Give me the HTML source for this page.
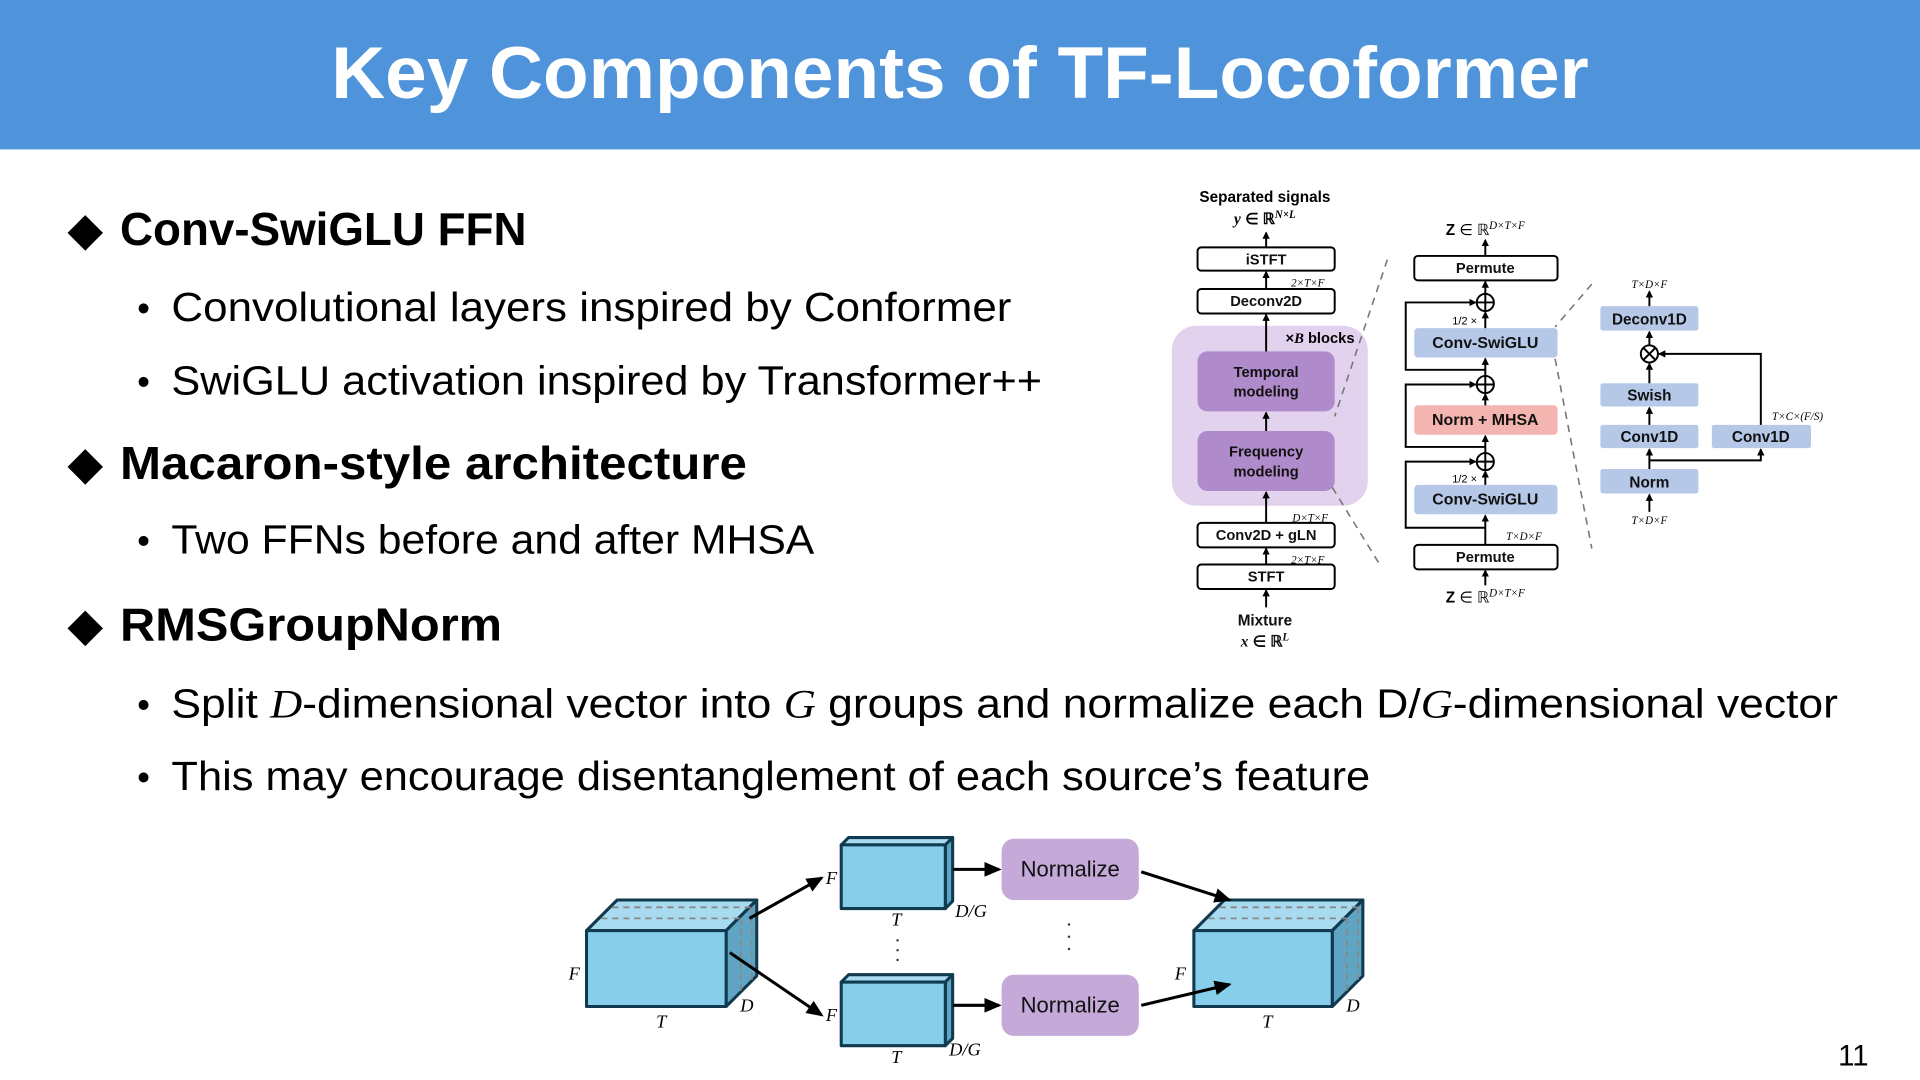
<!DOCTYPE html>
<html><head><meta charset="utf-8"><style>
html,body{margin:0;padding:0;background:#fff;}
svg{display:block;font-family:"Liberation Sans",sans-serif;}
.b{font-weight:bold;}
.it{font-family:"Liberation Serif",serif;font-style:italic;}
</style></head><body>
<svg width="1920" height="1080" viewBox="0 0 1568 882" xmlns="http://www.w3.org/2000/svg">
<defs>
<marker id="ah" markerWidth="8" markerHeight="8" refX="7" refY="4" orient="auto" markerUnits="userSpaceOnUse"><path d="M0,0 L8,4 L0,8 z" fill="#000"/></marker>
<marker id="as" markerWidth="6" markerHeight="6" refX="5" refY="3" orient="auto" markerUnits="userSpaceOnUse"><path d="M0,0 L6,3 L0,6 z" fill="#000"/></marker>
<marker id="ab" markerWidth="14" markerHeight="12" refX="12" refY="6" orient="auto" markerUnits="userSpaceOnUse"><path d="M0,0 L14,6 L0,12 z" fill="#000"/></marker>
</defs>
<rect x="0" y="0" width="1568" height="122" fill="#4f94da"/>
<text x="784" y="80" text-anchor="middle" fill="#fff" class="b" font-size="60" textLength="1027" lengthAdjust="spacingAndGlyphs">Key Components of TF-Locoformer</text>

<g fill="#000">
<text x="55" y="200" font-size="38">◆</text>
<text x="98" y="200" class="b" font-size="38" textLength="332" lengthAdjust="spacingAndGlyphs">Conv-SwiGLU FFN</text>
<text x="112" y="262" font-size="30">•</text>
<text x="140" y="262" font-size="33" textLength="686" lengthAdjust="spacingAndGlyphs">Convolutional layers inspired by Conformer</text>
<text x="112" y="322" font-size="30">•</text>
<text x="140" y="322" font-size="33" textLength="711" lengthAdjust="spacingAndGlyphs">SwiGLU activation inspired by Transformer++</text>
<text x="55" y="391" font-size="38">◆</text>
<text x="98" y="391" class="b" font-size="38" textLength="512" lengthAdjust="spacingAndGlyphs">Macaron-style architecture</text>
<text x="112" y="452" font-size="30">•</text>
<text x="140" y="452" font-size="33" textLength="525" lengthAdjust="spacingAndGlyphs">Two FFNs before and after MHSA</text>
<text x="55" y="523" font-size="38">◆</text>
<text x="98" y="523" class="b" font-size="38" textLength="312" lengthAdjust="spacingAndGlyphs">RMSGroupNorm</text>
<text x="112" y="586" font-size="30">•</text>
<text x="140" y="586" font-size="33" textLength="1361" lengthAdjust="spacingAndGlyphs">Split <tspan class="it">D</tspan>-dimensional vector into <tspan class="it">G</tspan> groups and normalize each D/<tspan class="it">G</tspan>-dimensional vector</text>
<text x="112" y="645" font-size="30">•</text>
<text x="140" y="645" font-size="33" textLength="979" lengthAdjust="spacingAndGlyphs">This may encourage disentanglement of each source’s feature</text>
<text x="1526" y="870" font-size="24" text-anchor="end">11</text>
</g>

<!-- Top-right diagram -->
<g font-size="12" stroke-width="1.6">
<text x="1033" y="165" text-anchor="middle" class="b" font-size="12.5">Separated signals</text>
<text x="1033" y="183" text-anchor="middle" class="b" font-size="12.5"><tspan class="it">y</tspan> ∈ ℝ<tspan font-size="9" dy="-5" class="it">N×L</tspan></text>
<rect x="957" y="266" width="160" height="147" rx="20" fill="#e2d2ee"/>
<text x="1078" y="280" text-anchor="middle" class="b" font-size="12">×<tspan class="it">B</tspan> blocks</text>
<g fill="#fff" stroke="#000">
<rect x="978" y="202" width="112" height="19" rx="3"/>
<rect x="978" y="236" width="112" height="20" rx="3"/>
<rect x="978" y="427" width="112" height="20" rx="3"/>
<rect x="978" y="461" width="112" height="20" rx="3"/>
</g>
<rect x="978" y="287" width="112" height="49" rx="8" fill="#b08bcc"/>
<rect x="978" y="352" width="112" height="49" rx="8" fill="#b08bcc"/>
<g class="b" text-anchor="middle" fill="#111">
<text x="1034" y="216">iSTFT</text>
<text x="1034" y="250">Deconv2D</text>
<text x="1034" y="308">Temporal</text>
<text x="1034" y="324">modeling</text>
<text x="1034" y="373">Frequency</text>
<text x="1034" y="389">modeling</text>
<text x="1034" y="441">Conv2D + gLN</text>
<text x="1034" y="475">STFT</text>
<text x="1033" y="511" font-size="12.5">Mixture</text>
<text x="1033" y="528" font-size="12.5"><tspan class="it">x</tspan> ∈ ℝ<tspan font-size="9" dy="-5" class="it">L</tspan></text>
</g>
<g class="it" font-size="9" text-anchor="middle">
<text x="1068" y="234">2×T×F</text>
<text x="1070" y="426">D×T×F</text>
<text x="1068" y="460">2×T×F</text>
</g>
<g stroke="#000" marker-end="url(#as)">
<line x1="1034" y1="202" x2="1034" y2="190"/>
<line x1="1034" y1="236" x2="1034" y2="222"/>
<line x1="1034" y1="287" x2="1034" y2="257"/>
<line x1="1034" y1="352" x2="1034" y2="337"/>
<line x1="1034" y1="427" x2="1034" y2="402"/>
<line x1="1034" y1="461" x2="1034" y2="448"/>
<line x1="1034" y1="496" x2="1034" y2="482"/>
</g>
<g stroke="#777" stroke-dasharray="6,5" stroke-width="1.3">
<line x1="1133" y1="212" x2="1090" y2="340"/>
<line x1="1088" y1="398" x2="1128" y2="463"/>
<line x1="1300" y1="232" x2="1270" y2="267"/>
<line x1="1270" y1="293" x2="1300" y2="448"/>
</g>

<!-- middle -->
<text x="1213" y="192" text-anchor="middle" font-size="12.5"><tspan class="b">Z</tspan> ∈ ℝ<tspan font-size="9" dy="-5" class="it">D×T×F</tspan></text>
<text x="1213" y="492" text-anchor="middle" font-size="12.5"><tspan class="b">Z</tspan> ∈ ℝ<tspan font-size="9" dy="-5" class="it">D×T×F</tspan></text>
<g fill="#fff" stroke="#000">
<rect x="1155" y="209" width="117" height="20" rx="3"/>
<rect x="1155" y="445" width="117" height="20" rx="3"/>
</g>
<rect x="1155" y="268" width="117" height="24" rx="3" fill="#b5c8e8"/>
<rect x="1155" y="396" width="117" height="24" rx="3" fill="#b5c8e8"/>
<rect x="1155" y="331" width="117" height="24" rx="3" fill="#f4b5b0"/>
<g class="b" text-anchor="middle" fill="#111">
<text x="1213" y="223">Permute</text>
<text x="1213" y="459">Permute</text>
<text x="1213" y="284" font-size="13">Conv-SwiGLU</text>
<text x="1213" y="412" font-size="13">Conv-SwiGLU</text>
<text x="1213" y="347" font-size="13">Norm + MHSA</text>
</g>
<g class="it" font-size="9">
<text x="1186" y="265" font-style="normal" font-family="Liberation Sans">1/2 ×</text>
<text x="1186" y="394" font-style="normal" font-family="Liberation Sans">1/2 ×</text>
<text x="1230" y="441">T×D×F</text>
</g>
<g stroke="#000" fill="none">
<circle cx="1213" cy="247" r="7"/><line x1="1206" y1="247" x2="1220" y2="247"/><line x1="1213" y1="240" x2="1213" y2="254"/>
<circle cx="1213" cy="314" r="7"/><line x1="1206" y1="314" x2="1220" y2="314"/><line x1="1213" y1="307" x2="1213" y2="321"/>
<circle cx="1213" cy="377" r="7"/><line x1="1206" y1="377" x2="1220" y2="377"/><line x1="1213" y1="370" x2="1213" y2="384"/>
<polyline points="1213,302 1148,302 1148,247 1205,247" marker-end="url(#as)"/>
<polyline points="1213,365 1148,365 1148,314 1205,314" marker-end="url(#as)"/>
<polyline points="1213,431 1148,431 1148,377 1205,377" marker-end="url(#as)"/>
<g marker-end="url(#as)">
<line x1="1213" y1="209" x2="1213" y2="196"/>
<line x1="1213" y1="240" x2="1213" y2="230"/>
<line x1="1213" y1="268" x2="1213" y2="255"/>
<line x1="1213" y1="307" x2="1213" y2="293"/>
<line x1="1213" y1="331" x2="1213" y2="322"/>
<line x1="1213" y1="370" x2="1213" y2="356"/>
<line x1="1213" y1="396" x2="1213" y2="385"/>
<line x1="1213" y1="445" x2="1213" y2="421"/>
<line x1="1213" y1="478" x2="1213" y2="466"/>
</g>
</g>

<!-- right -->
<g fill="#b5c8e8">
<rect x="1307" y="250" width="80" height="20" rx="2"/>
<rect x="1307" y="313" width="80" height="19" rx="2"/>
<rect x="1307" y="347" width="80" height="19" rx="2"/>
<rect x="1398" y="347" width="81" height="19" rx="2"/>
<rect x="1307" y="383" width="80" height="20" rx="2"/>
</g>
<g class="b" text-anchor="middle" fill="#111" font-size="12.5">
<text x="1347" y="265">Deconv1D</text>
<text x="1347" y="327">Swish</text>
<text x="1347" y="361">Conv1D</text>
<text x="1438" y="361">Conv1D</text>
<text x="1347" y="398">Norm</text>
</g>
<g class="it" font-size="9" text-anchor="middle">
<text x="1347" y="235">T×D×F</text>
<text x="1347" y="428">T×D×F</text>
<text x="1468" y="343">T×C×(F/S)</text>
</g>
<g stroke="#000" fill="none">
<circle cx="1347" cy="289" r="7"/><line x1="1342" y1="284" x2="1352" y2="294"/><line x1="1352" y1="284" x2="1342" y2="294"/>
<polyline points="1438,347 1438,289 1355,289" marker-end="url(#as)"/>
<polyline points="1347,376 1438,376 1438,367" marker-end="url(#as)"/>
<g marker-end="url(#as)">
<line x1="1347" y1="250" x2="1347" y2="238"/>
<line x1="1347" y1="282" x2="1347" y2="271"/>
<line x1="1347" y1="313" x2="1347" y2="297"/>
<line x1="1347" y1="347" x2="1347" y2="333"/>
<line x1="1347" y1="383" x2="1347" y2="367"/>
<line x1="1347" y1="418" x2="1347" y2="404"/>
</g>
</g>
</g>

<!-- bottom diagram -->
<g stroke="#0f3a4f" stroke-width="2.5" stroke-linejoin="round">
<polygon points="479,760 504,735 618,735 593,760" fill="#a9dbf0"/>
<polygon points="593,760 618,735 618,797 593,822" fill="#5fa5c3"/>
<rect x="479" y="760" width="114" height="62" fill="#87ceeb"/>
<polygon points="975,760 1000,735 1113,735 1088,760" fill="#a9dbf0"/>
<polygon points="1088,760 1113,735 1113,797 1088,822" fill="#5fa5c3"/>
<rect x="975" y="760" width="113" height="62" fill="#87ceeb"/>
<polygon points="687,690 693,684 778,684 772,690" fill="#a9dbf0"/>
<polygon points="772,690 778,684 778,736 772,742" fill="#5fa5c3"/>
<rect x="687" y="690" width="85" height="52" fill="#87ceeb"/>
<polygon points="687,802 693,796 778,796 772,802" fill="#a9dbf0"/>
<polygon points="772,802 778,796 778,848 772,854" fill="#5fa5c3"/>
<rect x="687" y="802" width="85" height="52" fill="#87ceeb"/>
</g>
<g stroke="#888" stroke-width="1.5" stroke-dasharray="5,4" fill="none">
<line x1="500" y1="741" x2="614" y2="741"/><line x1="491" y1="750" x2="605" y2="750"/>
<line x1="605" y1="750" x2="605" y2="812"/><line x1="614" y1="741" x2="614" y2="803"/>
<line x1="996" y1="741" x2="1109" y2="741"/><line x1="987" y1="750" x2="1100" y2="750"/>
<line x1="1100" y1="750" x2="1100" y2="812"/><line x1="1109" y1="741" x2="1109" y2="803"/>
</g>
<rect x="818" y="685" width="112" height="50" rx="10" fill="#c5a9d9"/>
<rect x="818" y="796" width="112" height="50" rx="10" fill="#c5a9d9"/>
<text x="874" y="716" text-anchor="middle" font-size="18" fill="#111">Normalize</text>
<text x="874" y="827" text-anchor="middle" font-size="18" fill="#111">Normalize</text>
<g stroke="#000" stroke-width="2.5" marker-end="url(#ab)">
<line x1="778" y1="710" x2="816" y2="710"/>
<line x1="778" y1="821" x2="816" y2="821"/>
<line x1="612" y1="750" x2="671" y2="717"/>
<line x1="596" y1="778" x2="671" y2="829"/>
<line x1="932" y1="712" x2="1004" y2="735"/>
<line x1="932" y1="821" x2="1004" y2="804"/>
</g>
<g fill="#333">
<circle cx="733" cy="768" r="1"/><circle cx="733" cy="776" r="1"/><circle cx="733" cy="784" r="1"/>
<circle cx="873" cy="755" r="1"/><circle cx="873" cy="765" r="1"/><circle cx="873" cy="775" r="1"/>
</g>
<g class="it" font-size="15" fill="#000" text-anchor="middle">
<text x="469" y="800">F</text><text x="540" y="839">T</text><text x="610" y="826">D</text>
<text x="964" y="800">F</text><text x="1035" y="839">T</text><text x="1105" y="826">D</text>
<text x="679" y="722">F</text><text x="732" y="756">T</text><text x="793" y="749">D/G</text>
<text x="679" y="834">F</text><text x="732" y="868">T</text><text x="788" y="862">D/G</text>
</g>
</svg>
</body></html>
